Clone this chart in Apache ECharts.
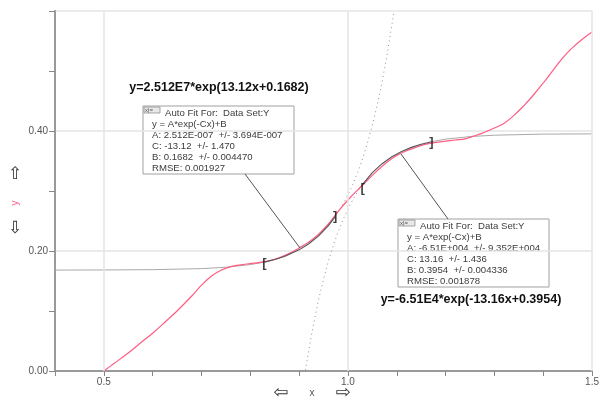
<!DOCTYPE html>
<html><head><meta charset="utf-8">
<script src="https://cdn.jsdelivr.net/npm/echarts@6/dist/echarts.min.js"></script>
<style>html,body{margin:0;padding:0;background:#fff}#c{width:602px;height:401px}</style>
</head><body><div id="c"></div>
<script>
// measured data curve (x, y)
const dataCurve = [[0.50,0.000],[0.52,0.012],[0.55,0.030],[0.58,0.050],[0.60,0.063],[0.63,0.085],[0.65,0.100],[0.68,0.125],[0.70,0.143],[0.72,0.158],[0.74,0.168],[0.76,0.174],[0.78,0.177],[0.80,0.179],[0.82,0.181],[0.84,0.184],[0.86,0.189],[0.88,0.196],[0.90,0.205],[0.92,0.215],[0.94,0.228],[0.96,0.245],[0.98,0.266],[1.00,0.285],[1.02,0.302],[1.04,0.318],[1.06,0.334],[1.08,0.348],[1.10,0.359],[1.12,0.367],[1.14,0.373],[1.16,0.378],[1.18,0.381],[1.20,0.383],[1.22,0.385],[1.24,0.387],[1.26,0.392],[1.28,0.398],[1.30,0.405],[1.32,0.413],[1.34,0.426],[1.36,0.442],[1.38,0.460],[1.40,0.480],[1.42,0.501],[1.44,0.522],[1.46,0.539],[1.48,0.553],[1.50,0.565]];
// left fit (y=2.512E7*exp(13.12x+0.1682))
const leftFitOuter = [[0.40,0.1682],[0.50,0.1684],[0.60,0.1689],[0.70,0.1706],[0.75,0.1729],[0.80,0.1773],[0.829,0.1815]];
const leftFitRange = [[0.829,0.1815],[0.85,0.1857],[0.87,0.1910],[0.90,0.2019],[0.92,0.2121],[0.94,0.2252],[0.96,0.2423],[0.974,0.2573]];
const leftFitExtra = [[0.974,0.2573],[0.99,0.2781],[1.00,0.2935],[1.01,0.3111],[1.02,0.3310],[1.03,0.3540],[1.04,0.3800],[1.05,0.4097],[1.06,0.4435],[1.07,0.4820],[1.08,0.5263],[1.09,0.5764],[1.0946,0.600]];
// right fit (y=-6.51E4*exp(-13.16x+0.3954))
const rightFitExtra = [[0.913,0.0014],[0.92,0.036],[0.93,0.0804],[0.94,0.119],[0.95,0.1533],[0.96,0.1832],[0.97,0.2093],[0.98,0.2323],[0.99,0.2523],[1.00,0.2700],[1.01,0.2855],[1.02,0.2990],[1.03,0.3109]];
const rightFitRange = [[1.03,0.3109],[1.05,0.3305],[1.07,0.3455],[1.09,0.3570],[1.11,0.3659],[1.13,0.3727],[1.15,0.3780],[1.171,0.3822]];
const rightFitOuter = [[1.171,0.3822],[1.20,0.3864],[1.25,0.3907],[1.30,0.3930],[1.40,0.3948],[1.50,0.3952]];
// fit range brackets
const brackets = [[0.829,0.180,'['],[0.974,0.257,']'],[1.030,0.305,'['],[1.171,0.381,']']];
const xMajorTicks = [0.5, 1.0, 1.5];
const yTickLabels = ['0.00','0.20','0.40'];
const box1Lines = ['Auto Fit For:  Data Set:Y','y = A*exp(-Cx)+B','A: 2.512E-007  +/- 3.694E-007','C: -13.12  +/- 1.470','B: 0.1682  +/- 0.004470','RMSE: 0.001927'];
const box2Lines = ['Auto Fit For:  Data Set:Y','y = A*exp(-Cx)+B','A: -6.51E+004  +/- 9.352E+004','C: 13.16  +/- 1.436','B: 0.3954  +/- 0.004336','RMSE: 0.001878'];
const formula1 = 'y=2.512E7*exp(13.12x+0.1682)';
const formula2 = 'y=-6.51E4*exp(-13.16x+0.3954)';

const FONT = 'Liberation Sans, Arial, sans-serif';
const chart = echarts.init(document.getElementById('c'), null, {renderer:'canvas'});

function fitBox(x, y, lines) {
  const children = [
    {type:'rect', shape:{x:x, y:y, width:151, height:68}, style:{fill:'#fff', stroke:'#a0a0a0', lineWidth:1}},
    {type:'rect', shape:{x:x+1, y:y+1, width:16, height:6}, style:{fill:'#e8e8e8', stroke:'#909090', lineWidth:0.8}},
    {type:'text', style:{x:x+2, y:y+1, text:'x|=', font:'6px ' + FONT, fill:'#555'}}
  ];
  lines.forEach((t, i) => {
    children.push({type:'text', style:{x: i === 0 ? x+22 : x+9, y: y+7.5+i*10.9, text:t, font:'9.6px ' + FONT, fill:'#3c3c3c', textVerticalAlign:'middle'}});
  });
  return {type:'group', children: children, z: 100};
}

const lineS = (data, color, width, type, z) => ({type:'line', data:data, showSymbol:false, symbol:'none', silent:true, z:z||3, lineStyle:{color:color, width:width, type:type||'solid'}, animation:false});

chart.setOption({
  animation:false,
  grid:{left:55, right:6, top:11, bottom:30},
  xAxis:{type:'value', min:0.4, max:1.5, interval:0.1,
    axisLine:{show:true, lineStyle:{color:'#9a9a9a', width:2}},
    axisTick:{show:true, length:5, lineStyle:{color:'#888'}},
    splitLine:{show:false},
    axisLabel:{color:'#555', fontSize:10, fontFamily:FONT, margin:6,
      formatter: v => xMajorTicks.some(t => Math.abs(v-t) < 1e-6) ? v.toFixed(1) : ''}},
  yAxis:{type:'value', min:0, max:0.6, interval:0.2,
    axisLine:{show:true, lineStyle:{color:'#9a9a9a', width:2}},
    axisTick:{show:true, length:6, lineStyle:{color:'#888'}},
    minorTick:{show:true, splitNumber:2, length:6, lineStyle:{color:'#888'}},
    splitLine:{show:true, lineStyle:{color:'#e4e4e4', width:1.5}},
    axisLabel:{color:'#555', fontSize:10, fontFamily:FONT, margin:7,
      formatter: (v, i) => yTickLabels[i] !== undefined ? yTickLabels[i] : ''}},
  series:[
    {type:'line', data:[], silent:true, z:1, markLine:{silent:true, symbol:'none', label:{show:false},
      lineStyle:{color:'#e4e4e4', width:1.5, type:'solid'}, animation:false,
      data: xMajorTicks.map(t => ({xAxis:t}))}},
    lineS(leftFitOuter, '#a8a8a8', 1),
    lineS(rightFitOuter, '#a8a8a8', 1),
    lineS(leftFitExtra, '#909090', 1, [1,3.5]),
    lineS(rightFitExtra, '#909090', 1, [1,3.5]),
    Object.assign(lineS(dataCurve, '#ff5c82', 1.2, 'solid', 4), {smooth:0.4}),
    lineS(leftFitRange, '#555', 1.1, 'solid', 5),
    lineS(rightFitRange, '#555', 1.1, 'solid', 5),
    {type:'scatter', data:brackets.map(b => ({value:[b[0], b[1]], name:b[2]})), symbolSize:0, silent:true, z:6,
      label:{show:true, position:'inside', formatter: p => p.name, color:'#111', fontSize:13, fontWeight:'bold', fontFamily:FONT}}
  ],
  graphic:[
    {type:'line', shape:{x1:245, y1:174, x2:300, y2:248}, style:{stroke:'#555', lineWidth:1}, z:50},
    {type:'line', shape:{x1:401, y1:154, x2:448, y2:219}, style:{stroke:'#555', lineWidth:1}, z:50},
    fitBox(143, 106, box1Lines),
    fitBox(398, 219, box2Lines),
    {type:'text', z:100, style:{x:219, y:88, text:formula1, font:'bold 12.5px ' + FONT, fill:'#111', textAlign:'center', textVerticalAlign:'middle'}},
    {type:'text', z:100, style:{x:471, y:300, text:formula2, font:'bold 12.5px ' + FONT, fill:'#111', textAlign:'center', textVerticalAlign:'middle'}},
    {type:'text', z:100, style:{x:15, y:175, text:'⇧', font:'17px DejaVu Sans', fill:'#333', textAlign:'center', textVerticalAlign:'middle'}},
    {type:'text', z:100, style:{x:15, y:229, text:'⇩', font:'17px DejaVu Sans', fill:'#333', textAlign:'center', textVerticalAlign:'middle'}},
    {type:'text', z:100, x:15, y:203, rotation:Math.PI/2, style:{x:0, y:0, text:'y', font:'10px ' + FONT, fill:'#ff5c82', textAlign:'center', textVerticalAlign:'middle'}},
    {type:'text', z:100, style:{x:281, y:393, text:'⇦', font:'18px DejaVu Sans', fill:'#333', textAlign:'center', textVerticalAlign:'middle'}},
    {type:'text', z:100, style:{x:312, y:393, text:'x', font:'10px ' + FONT, fill:'#555', textAlign:'center', textVerticalAlign:'middle'}},
    {type:'text', z:100, style:{x:343, y:393, text:'⇨', font:'18px DejaVu Sans', fill:'#333', textAlign:'center', textVerticalAlign:'middle'}}
  ]
});
</script></body></html>
